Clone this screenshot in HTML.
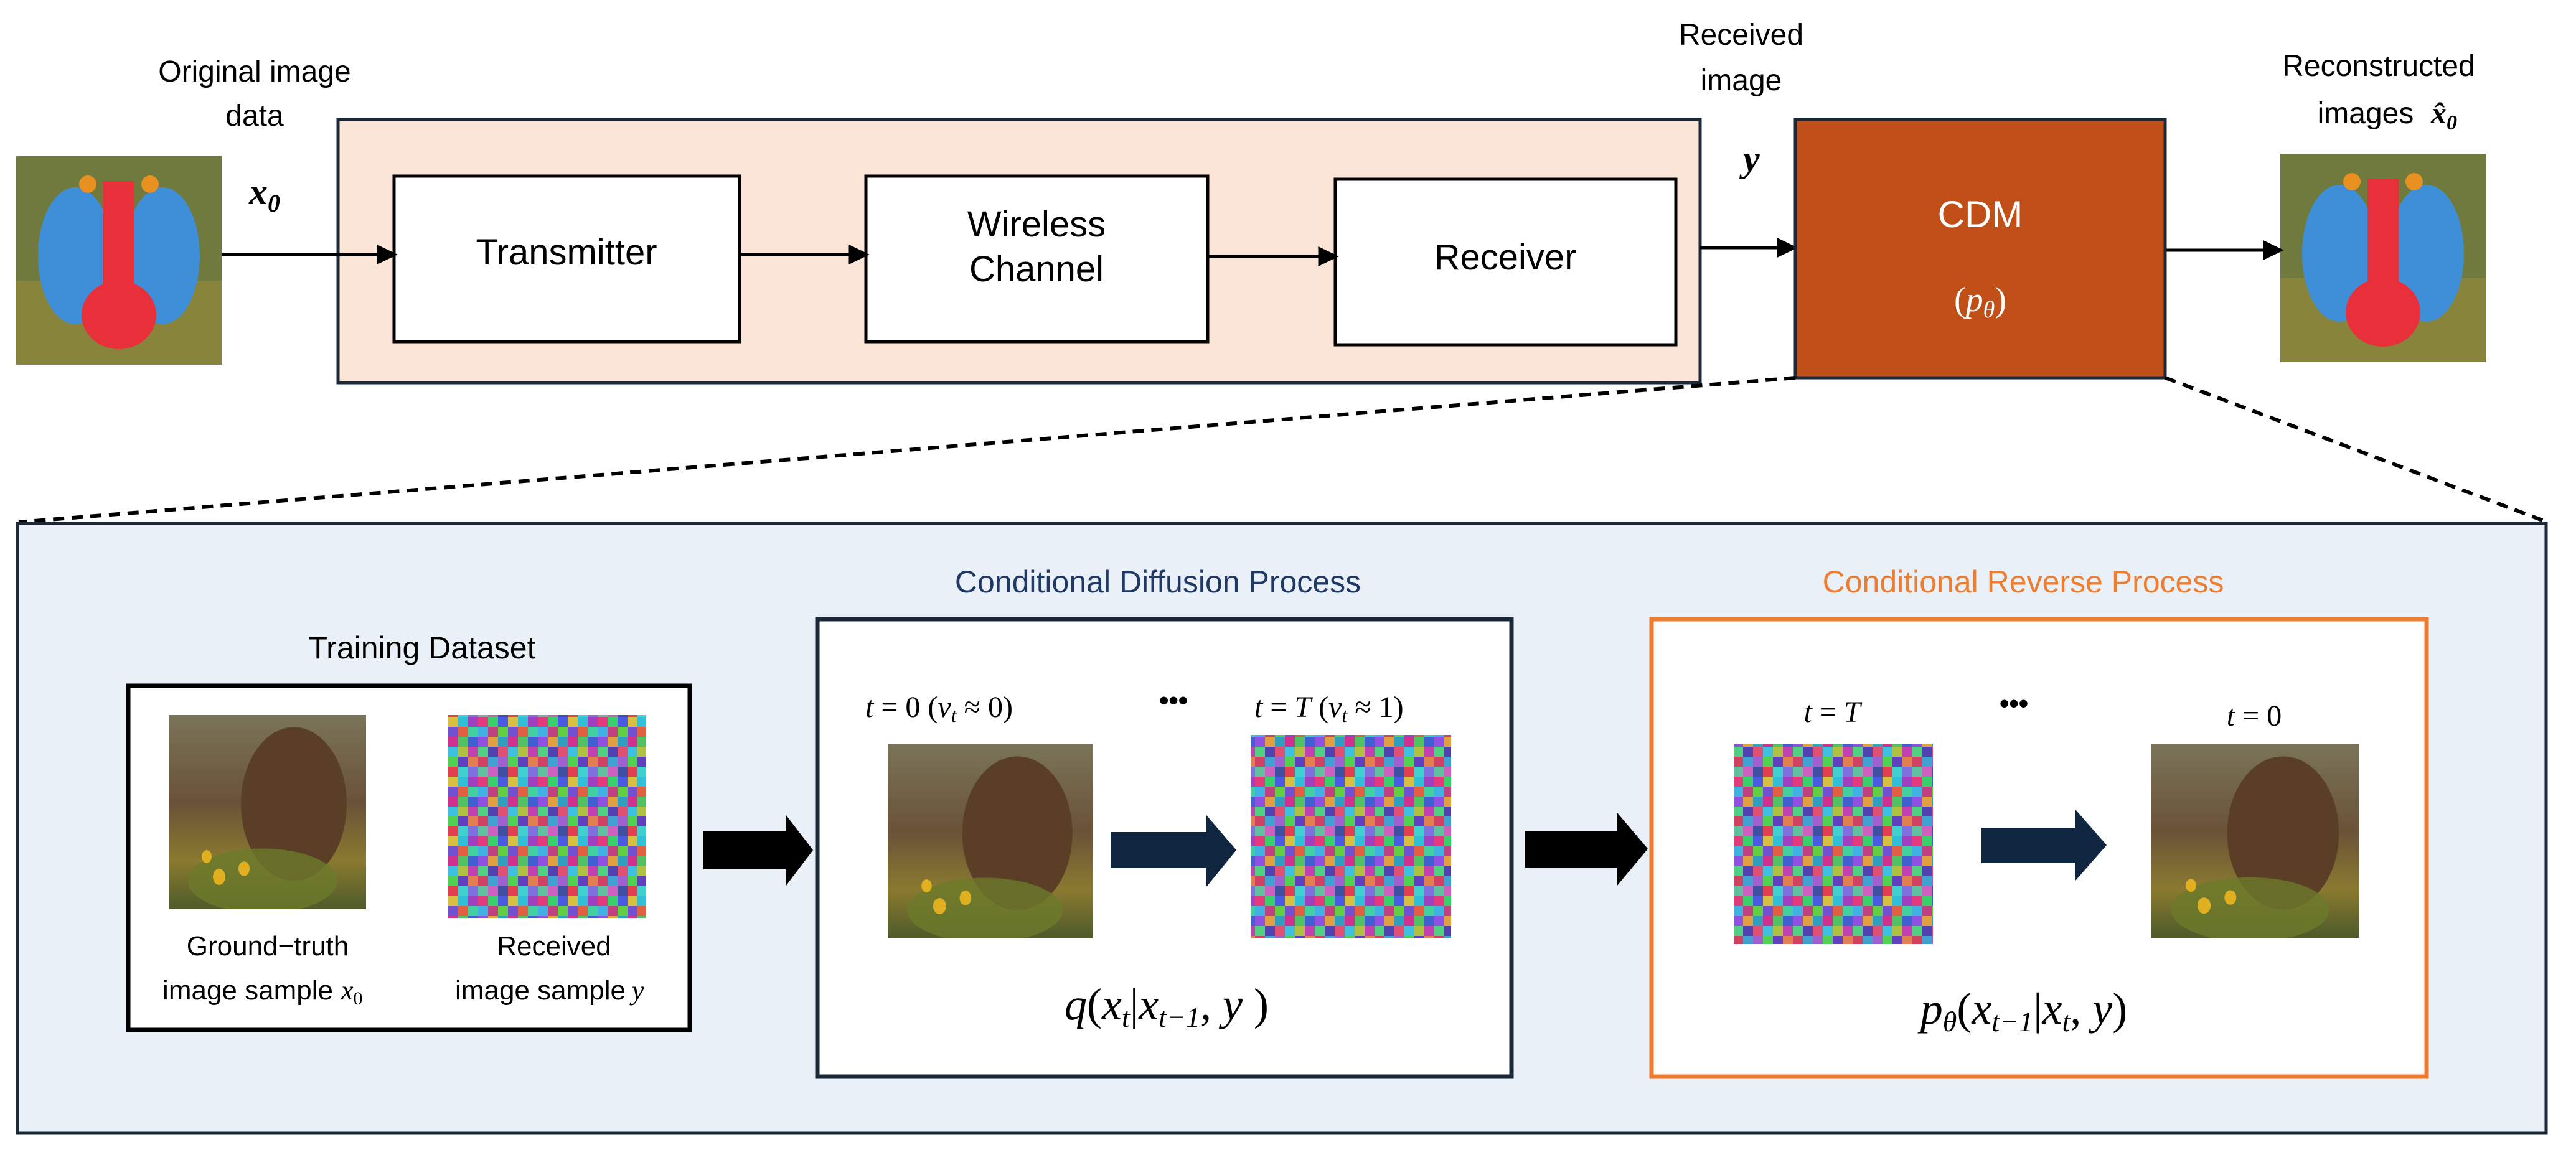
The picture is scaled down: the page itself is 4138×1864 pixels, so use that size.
<!DOCTYPE html>
<html><head><meta charset="utf-8"><style>
html,body{margin:0;padding:0;background:#fff;}
svg{display:block}
.s{font-family:"Liberation Sans",sans-serif;}
.m{font-family:"Liberation Serif",serif;font-style:italic;}
</style></head><body>
<svg width="4138" height="1864" viewBox="0 0 4138 1864" xmlns="http://www.w3.org/2000/svg">
<defs>
<pattern id="nz" width="96" height="96" patternUnits="userSpaceOnUse">
<rect width="96" height="96" fill="#8a6aa8"/>
<rect x="0" y="0" width="16" height="16" fill="#e23a7a"/><rect x="16" y="0" width="16" height="16" fill="#3ad06a"/><rect x="32" y="0" width="16" height="16" fill="#4a5ae0"/><rect x="48" y="0" width="16" height="16" fill="#d8c040"/><rect x="64" y="0" width="16" height="16" fill="#30c0d8"/><rect x="80" y="0" width="16" height="16" fill="#a040c0"/>
<rect x="0" y="16" width="16" height="16" fill="#40b0e0"/><rect x="16" y="16" width="16" height="16" fill="#c04080"/><rect x="32" y="16" width="16" height="16" fill="#60d040"/><rect x="48" y="16" width="16" height="16" fill="#7050d0"/><rect x="64" y="16" width="16" height="16" fill="#e06040"/><rect x="80" y="16" width="16" height="16" fill="#40d0a0"/>
<rect x="0" y="32" width="16" height="16" fill="#9050e0"/><rect x="16" y="32" width="16" height="16" fill="#e0a040"/><rect x="32" y="32" width="16" height="16" fill="#30a0c0"/><rect x="48" y="32" width="16" height="16" fill="#d03090"/><rect x="64" y="32" width="16" height="16" fill="#50c060"/><rect x="80" y="32" width="16" height="16" fill="#4060d0"/>
<rect x="0" y="48" width="16" height="16" fill="#50d080"/><rect x="16" y="48" width="16" height="16" fill="#5040b0"/><rect x="32" y="48" width="16" height="16" fill="#e05070"/><rect x="48" y="48" width="16" height="16" fill="#40c0e0"/><rect x="64" y="48" width="16" height="16" fill="#b0c040"/><rect x="80" y="48" width="16" height="16" fill="#c040b0"/>
<rect x="0" y="64" width="16" height="16" fill="#d04060"/><rect x="16" y="64" width="16" height="16" fill="#40a0d0"/><rect x="32" y="64" width="16" height="16" fill="#a060d0"/><rect x="48" y="64" width="16" height="16" fill="#50d050"/><rect x="64" y="64" width="16" height="16" fill="#6040c0"/><rect x="80" y="64" width="16" height="16" fill="#e08050"/>
<rect x="0" y="80" width="16" height="16" fill="#60c0a0"/><rect x="16" y="80" width="16" height="16" fill="#d060c0"/><rect x="32" y="80" width="16" height="16" fill="#4050a0"/><rect x="48" y="80" width="16" height="16" fill="#e04050"/><rect x="64" y="80" width="16" height="16" fill="#40d0d0"/><rect x="80" y="80" width="16" height="16" fill="#8070e0"/>
</pattern>
<linearGradient id="qk" x1="0" y1="0" x2="0" y2="1">
<stop offset="0" stop-color="#7a7458"/><stop offset="0.45" stop-color="#6a5238"/><stop offset="0.75" stop-color="#8a7a30"/><stop offset="1" stop-color="#4e5a2a"/>
</linearGradient>
<g id="baboon">
<rect width="330" height="335" fill="#6f7a3c"/>
<rect x="0" y="200" width="330" height="135" fill="#9a8a3a" opacity="0.6"/>
<ellipse cx="95" cy="160" rx="60" ry="110" fill="#3f8fd8"/>
<ellipse cx="235" cy="160" rx="60" ry="110" fill="#3f8fd8"/>
<rect x="140" y="40" width="50" height="200" fill="#e8303a"/>
<ellipse cx="165" cy="255" rx="60" ry="55" fill="#e8303a"/>
<circle cx="115" cy="45" r="14" fill="#e89020"/><circle cx="215" cy="45" r="14" fill="#e89020"/>
</g>
<g id="quokka">
<rect width="316" height="240" fill="url(#qk)"/>
<ellipse cx="200" cy="110" rx="85" ry="95" fill="#5a3e26"/>
<ellipse cx="150" cy="205" rx="120" ry="40" fill="#6b7a2a" opacity="0.8"/>
<circle cx="80" cy="200" r="10" fill="#e0b020"/><circle cx="120" cy="190" r="9" fill="#e0b020"/><circle cx="60" cy="175" r="8" fill="#e0b020"/>
</g>
</defs>

<!-- top row -->
<use href="#baboon" x="26" y="251"/>
<use href="#baboon" x="3663" y="247"/>
<text class="s" x="409" y="131" font-size="48" text-anchor="middle">Original image</text>
<text class="s" x="409" y="202" font-size="48" text-anchor="middle">data</text>
<text class="m" x="400" y="328" font-size="60" font-weight="bold">x<tspan font-size="40" dy="12">0</tspan></text>

<rect x="543" y="192" width="2188" height="423" fill="#FBE5D6" stroke="#1b2838" stroke-width="5"/>
<rect x="633" y="283" width="555" height="266" fill="#fff" stroke="#000" stroke-width="5"/>
<rect x="1391" y="283" width="549" height="266" fill="#fff" stroke="#000" stroke-width="5"/>
<rect x="2145" y="288" width="547" height="266" fill="#fff" stroke="#000" stroke-width="5"/>
<text class="s" x="910" y="425" font-size="58" text-anchor="middle">Transmitter</text>
<text class="s" x="1665" y="380" font-size="58" text-anchor="middle">Wireless</text>
<text class="s" x="1665" y="452" font-size="58" text-anchor="middle">Channel</text>
<text class="s" x="2418" y="433" font-size="58" text-anchor="middle">Receiver</text>

<g stroke="#000" stroke-width="5" fill="#000">
<line x1="356" y1="409" x2="610" y2="409"/><polygon points="633,409 608,397 608,421"/>
<line x1="1188" y1="409" x2="1370" y2="409"/><polygon points="1391,409 1366,397 1366,421"/>
<line x1="1940" y1="412" x2="2124" y2="412"/><polygon points="2145,412 2120,400 2120,424"/>
<line x1="2731" y1="398" x2="2860" y2="398"/><polygon points="2882,398 2857,386 2857,410"/>
<line x1="3478" y1="402" x2="3640" y2="402"/><polygon points="3663,402 3638,390 3638,414"/>
</g>

<text class="s" x="2797" y="72" font-size="48" text-anchor="middle">Received</text>
<text class="s" x="2797" y="145" font-size="48" text-anchor="middle">image</text>
<text class="m" x="2800" y="275" font-size="60" font-weight="bold">y</text>

<rect x="2884" y="192" width="594" height="415" fill="#C05018" stroke="#1b2838" stroke-width="5"/>
<text class="s" x="3181" y="365" font-size="60" fill="#fff" text-anchor="middle">CDM</text>
<text x="3181" y="500" font-size="56" fill="#fff" text-anchor="middle" font-family="Liberation Serif,serif">(<tspan font-style="italic">p</tspan><tspan font-style="italic" font-size="38" dy="10">θ</tspan><tspan dy="-10">)</tspan></text>

<text class="s" x="3821" y="122" font-size="48" text-anchor="middle">Reconstructed</text>
<text class="s" x="3800" y="198" font-size="48" text-anchor="middle">images</text>
<text class="m" x="3905" y="198" font-size="50" font-weight="bold">x̂<tspan font-size="34" dy="10">0</tspan></text>

<!-- dashed zoom lines -->
<g stroke="#000" stroke-width="6" stroke-dasharray="18,12">
<line x1="2884" y1="607" x2="30" y2="839"/>
<line x1="3478" y1="607" x2="4092" y2="839"/>
</g>

<!-- bottom -->
<rect x="28" y="841" width="4062" height="980" fill="#E9F0F8" stroke="#1b2838" stroke-width="5"/>

<text class="s" x="678" y="1058" font-size="50" text-anchor="middle">Training Dataset</text>
<rect x="206" y="1102" width="902" height="553" fill="#fff" stroke="#000" stroke-width="7"/>
<svg x="272" y="1149" width="316" height="312" viewBox="0 0 316 240" preserveAspectRatio="none"><use href="#quokka"/></svg>
<rect x="720" y="1149" width="317" height="326" fill="url(#nz)"/>
<text class="s" x="430" y="1535" font-size="44" text-anchor="middle">Ground−truth</text>
<text class="s" x="398" y="1606" font-size="44" text-anchor="middle">image sample</text>
<text class="m" x="548" y="1606" font-size="44">x<tspan font-size="30" dy="8" font-style="normal">0</tspan></text>
<text class="s" x="890" y="1535" font-size="44" text-anchor="middle">Received</text>
<text class="s" x="868" y="1606" font-size="44" text-anchor="middle">image sample</text>
<text class="m" x="1015" y="1606" font-size="44">y</text>

<polygon points="1130,1336 1262,1336 1262,1309 1306,1366 1262,1424 1262,1397 1130,1397" fill="#000"/>

<text class="s" x="1860" y="952" font-size="50" fill="#1F3864" text-anchor="middle">Conditional Diffusion Process</text>
<rect x="1313" y="995" width="1115" height="735" fill="#fff" stroke="#1b2838" stroke-width="7"/>
<text x="1390" y="1152" font-size="48" font-family="Liberation Serif,serif"><tspan font-style="italic">t</tspan> = 0 (<tspan font-style="italic">v</tspan><tspan font-style="italic" font-size="32" dy="8">t</tspan><tspan dy="-8"> ≈ 0)</tspan></text>
<text x="1862" y="1140" font-size="44" font-family="Liberation Sans,sans-serif" font-weight="bold">•••</text>
<text x="2015" y="1152" font-size="48" font-family="Liberation Serif,serif"><tspan font-style="italic">t</tspan> = <tspan font-style="italic">T</tspan> (<tspan font-style="italic">v</tspan><tspan font-style="italic" font-size="32" dy="8">t</tspan><tspan dy="-8"> ≈ 1)</tspan></text>
<svg x="1426" y="1196" width="329" height="312" viewBox="0 0 316 240" preserveAspectRatio="none"><use href="#quokka"/></svg>
<rect x="2010" y="1181" width="321" height="327" fill="url(#nz)"/>
<polygon points="1784,1337 1938,1337 1938,1310 1986,1366 1938,1425 1938,1395 1784,1395" fill="#0f2540"/>
<text x="1874" y="1638" font-size="72" text-anchor="middle" font-family="Liberation Serif,serif"><tspan font-style="italic">q</tspan>(<tspan font-style="italic">x</tspan><tspan font-style="italic" font-size="46" dy="12">t</tspan><tspan dy="-12">|</tspan><tspan font-style="italic">x</tspan><tspan font-style="italic" font-size="46" dy="12">t−1</tspan><tspan dy="-12">, </tspan><tspan font-style="italic">y</tspan> )</text>

<polygon points="2449,1336 2597,1336 2597,1305 2647,1364 2597,1424 2597,1394 2449,1394" fill="#000"/>

<text class="s" x="3250" y="952" font-size="50" fill="#ED7D31" text-anchor="middle">Conditional Reverse Process</text>
<rect x="2653" y="995" width="1245" height="735" fill="#fff" stroke="#ED7D31" stroke-width="7"/>
<text x="2943" y="1160" font-size="48" text-anchor="middle" font-family="Liberation Serif,serif"><tspan font-style="italic">t</tspan> = <tspan font-style="italic">T</tspan></text>
<text x="3212" y="1145" font-size="44" font-family="Liberation Sans,sans-serif" font-weight="bold">•••</text>
<text x="3621" y="1166" font-size="48" text-anchor="middle" font-family="Liberation Serif,serif"><tspan font-style="italic">t</tspan> = 0</text>
<rect x="2785" y="1195" width="320" height="322" fill="url(#nz)"/>
<polygon points="3183,1330 3334,1330 3334,1301 3384,1358 3334,1415 3334,1387 3183,1387" fill="#0f2540"/>
<svg x="3456" y="1196" width="334" height="311" viewBox="0 0 316 240" preserveAspectRatio="none"><use href="#quokka"/></svg>
<text x="3251" y="1645" font-size="72" text-anchor="middle" font-family="Liberation Serif,serif"><tspan font-style="italic">p</tspan><tspan font-style="italic" font-size="46" dy="12">θ</tspan><tspan dy="-12">(</tspan><tspan font-style="italic">x</tspan><tspan font-style="italic" font-size="46" dy="12">t−1</tspan><tspan dy="-12">|</tspan><tspan font-style="italic">x</tspan><tspan font-style="italic" font-size="46" dy="12">t</tspan><tspan dy="-12">, </tspan><tspan font-style="italic">y</tspan>)</text>
</svg>
</body></html>
